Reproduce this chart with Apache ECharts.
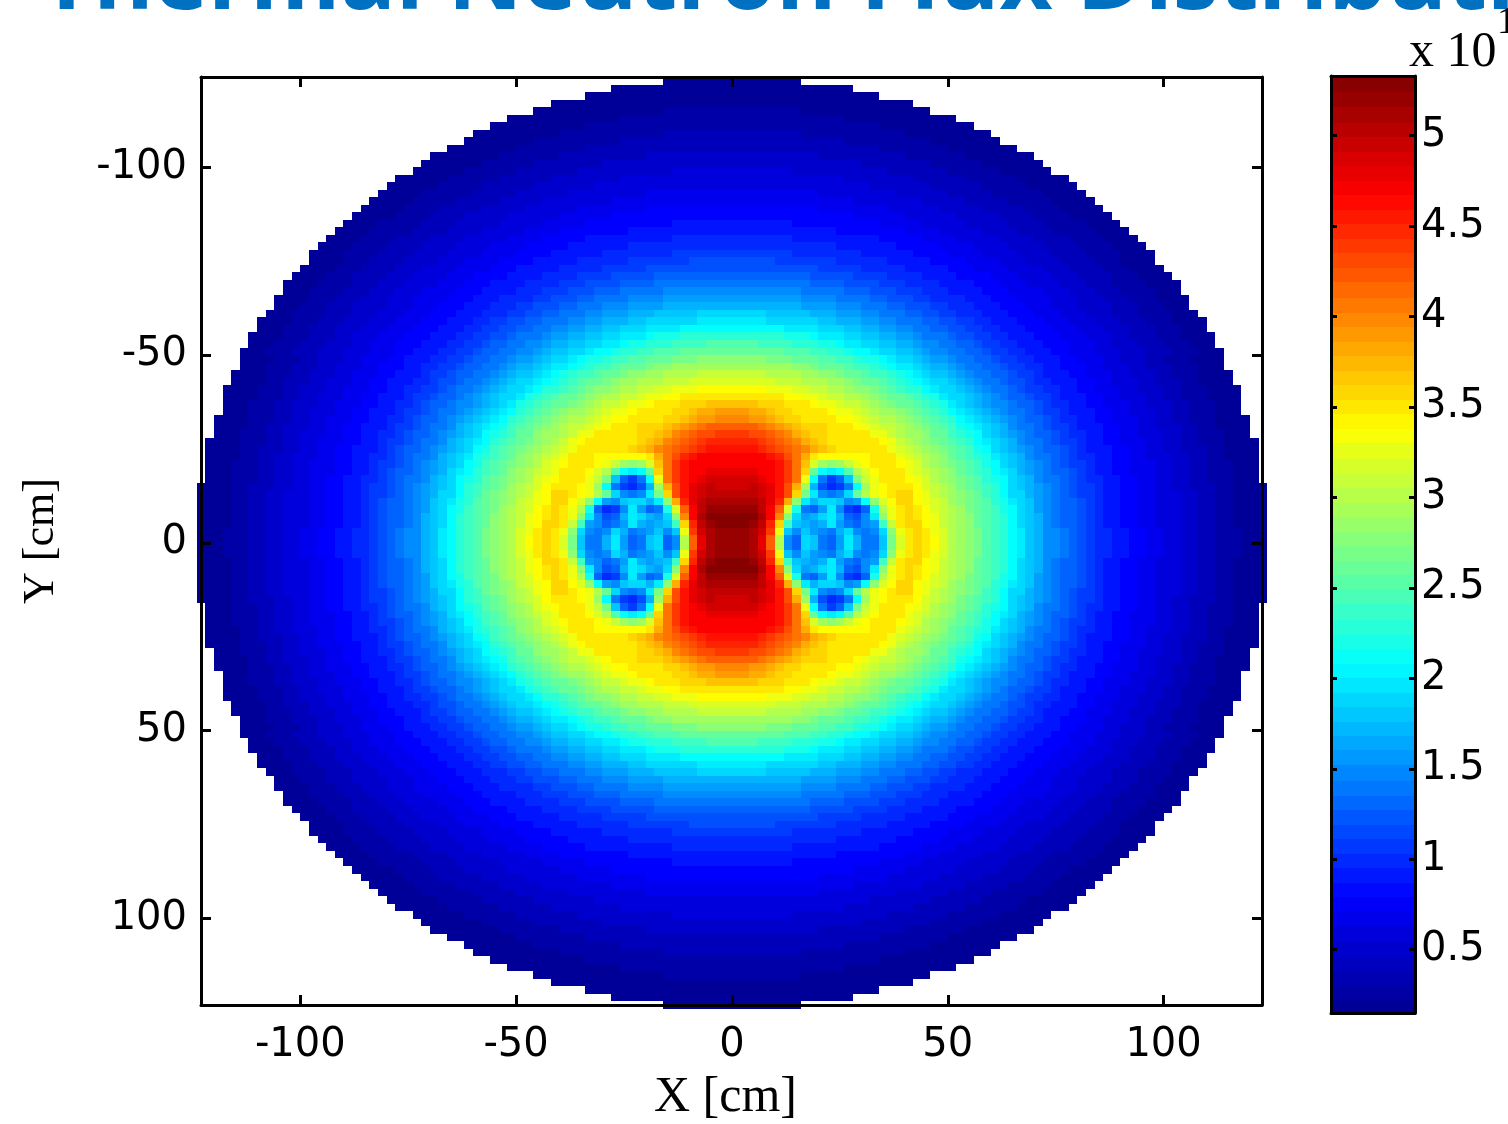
<!DOCTYPE html>
<html><head><meta charset="utf-8">
<style>html,body{margin:0;padding:0;background:#fff;overflow:hidden}#c{width:1508px;height:1124px}</style>
<script src="https://cdn.jsdelivr.net/npm/echarts@6/dist/echarts.min.js"></script>
</head><body><div id="c"></div>
<script>
// Flux in tenths of the colour-bar unit. One list per |y| row (cm); entries run outward along |x| = 1,3,5,... cm.
const r1=[52,52,51,48,42,30,15,13,19,18,14,13,16,20,17,14,14,18,27,32,35,36,35,34,32,30,29,28,27,25,24,23,21,20,18,17,15,15,14,13,12,11,10,10,9,9,8,8,7,7,6,6,5,5,4,4,3,3,3,2,2,2];
const r3=[52,52,51,49,44,33,18,15,18,16,15,14,17,19,15,14,15,19,28,33,35,36,35,33,32,30,29,28,27,25,24,23,21,20,18,17,15,15,14,13,12,11,10,10,9,9,8,8,7,7,6,6,5,5,4,4,3,3,3,2,2,2];
const r5=[53,53,52,50,45,36,24,18,17,16,17,20,16,14,13,15,16,24,31,35,36,36,34,33,31,30,29,28,26,25,24,23,21,19,18,17,15,14,13,13,12,11,10,9,9,8,8,7,7,6,6,6,5,5,4,4,3,3,2,2,2,2];
const r7=[53,53,53,51,47,40,28,19,16,17,19,20,17,13,12,15,20,28,33,35,36,35,34,33,31,30,29,28,26,25,24,23,21,19,18,17,15,14,13,13,12,11,10,9,9,8,8,7,7,6,6,6,5,5,4,4,3,3,2,2,2,2];
const r9=[52,52,52,50,47,42,32,22,14,13,16,20,15,11,10,13,22,30,33,35,36,35,34,32,31,30,29,27,26,25,24,22,21,19,18,16,15,14,13,13,12,11,10,9,9,8,8,7,7,6,6,6,5,5,4,4,3,3,2,2,2,2];
const r11=[51,51,51,50,48,45,38,28,20,17,19,19,18,15,16,21,28,32,34,36,36,34,33,32,31,29,28,27,26,25,23,22,20,19,18,16,15,14,13,13,12,11,10,9,9,8,8,7,7,6,6,6,5,5,4,4,3,3,2,2,2,2];
const r13=[50,50,50,49,48,46,43,36,27,20,15,14,15,19,26,30,33,34,35,36,36,34,33,31,30,29,28,27,26,24,23,21,19,19,17,16,15,14,13,12,11,11,10,9,9,8,8,7,7,6,6,6,5,5,4,4,3,3,2,2,2,2];
const r15=[49,49,50,49,48,46,43,38,29,17,12,10,11,14,21,29,33,34,35,35,35,34,32,31,30,29,27,26,25,24,23,21,19,18,17,16,15,14,13,12,11,11,10,9,9,8,8,7,7,6,6,5,5,4,4,4,3,3,2,2,2,2];
const r17=[49,49,49,48,47,46,44,41,33,21,14,11,13,18,27,31,33,35,35,35,34,33,32,30,29,28,27,26,25,23,22,21,19,18,17,15,14,14,13,12,11,10,10,9,9,8,8,7,7,6,6,5,5,4,4,3,3,3,2,2,2];
const r19=[48,48,48,47,47,46,44,41,36,26,21,20,21,25,30,32,34,35,35,35,33,32,31,30,29,28,26,25,24,23,21,20,19,17,16,15,14,13,13,12,11,10,9,9,8,8,7,7,7,6,6,5,5,4,4,3,3,3,2,2,2];
const r21=[47,47,47,47,47,46,44,41,37,32,29,28,29,31,33,34,35,35,35,34,33,32,30,29,28,27,26,25,24,22,21,19,18,17,16,15,14,13,12,11,11,10,9,9,8,8,7,7,7,6,6,5,5,4,4,3,3,3,2,2,2];
const r23=[47,47,47,47,46,45,43,41,38,35,34,34,34,34,34,34,35,35,35,33,32,31,30,29,28,26,25,24,23,22,20,19,18,17,15,14,14,13,12,11,10,10,9,9,8,8,7,7,6,6,6,5,5,4,4,3,3,2,2,2,2];
const r25=[46,46,46,45,44,43,42,41,40,38,37,36,35,35,35,35,35,35,33,32,31,30,29,28,27,26,25,24,22,21,19,18,17,16,15,14,13,13,12,11,10,9,9,9,8,8,7,7,6,6,5,5,4,4,4,3,3,2,2,2,2];
const r27=[45,45,45,44,43,42,41,40,38,37,36,35,35,35,35,35,35,34,33,31,30,29,28,27,26,25,24,23,21,20,19,18,17,15,14,14,13,12,11,11,10,9,9,8,8,7,7,7,6,6,5,5,4,4,3,3,3,2,2,2,2];
const r29=[44,44,43,43,42,41,40,38,37,36,36,35,35,35,35,35,33,33,31,30,29,29,28,26,26,24,23,22,21,19,18,17,16,15,14,13,13,12,11,10,10,9,9,8,8,7,7,6,6,6,5,5,4,4,3,3,3,2,2,2];
const r31=[42,42,42,41,40,39,38,37,36,36,36,35,35,35,34,33,32,31,31,30,29,28,27,26,25,24,22,21,20,19,18,17,15,14,14,13,12,11,11,10,9,9,9,8,8,7,7,6,6,5,5,5,4,4,3,3,2,2,2,2];
const r33=[40,40,39,39,38,37,36,36,35,35,35,35,34,34,33,32,31,30,30,29,28,27,26,25,24,23,21,20,19,18,17,16,15,14,13,13,12,11,10,10,9,9,8,8,7,7,7,6,6,5,5,4,4,3,3,3,2,2,2,2];
const r35=[39,39,38,38,37,36,36,35,35,35,35,34,33,33,32,31,30,29,29,28,27,26,25,24,23,21,20,19,18,17,16,15,14,14,13,12,11,11,10,9,9,9,8,8,7,7,6,6,6,5,5,4,4,3,3,3,2,2,2];
const r37=[37,37,37,36,36,36,35,35,35,34,33,33,32,31,31,30,29,28,27,26,26,25,24,23,22,20,19,18,17,16,15,15,14,13,13,12,11,10,10,9,9,8,8,7,7,7,6,6,5,5,5,4,4,3,3,3,2,2,2];
const r39=[35,35,35,35,35,35,34,34,33,33,32,31,31,30,30,29,28,27,26,26,25,24,23,22,20,19,19,18,17,16,15,14,13,13,12,11,11,10,9,9,9,8,8,7,7,6,6,6,5,5,4,4,3,3,3,2,2,2,2];
const r41=[34,34,34,34,33,33,33,32,32,31,31,30,30,29,28,28,27,26,25,24,23,23,21,20,19,19,18,17,16,15,14,14,13,12,11,11,10,10,9,9,8,8,7,7,7,6,6,5,5,5,4,4,3,3,3,2,2,2,2];
const r43=[32,32,32,32,32,31,31,31,30,30,30,29,29,28,27,26,26,25,24,23,22,21,20,19,19,18,17,16,15,14,14,13,12,12,11,10,10,9,9,9,8,8,7,7,6,6,6,5,5,4,4,4,3,3,2,2,2,2];
const r45=[31,31,31,31,30,30,30,30,29,29,28,28,27,26,26,25,24,24,23,22,21,20,19,18,18,17,16,15,14,14,13,13,12,11,11,10,9,9,9,8,8,7,7,7,6,6,5,5,5,4,4,3,3,3,2,2,2,2];
const r47=[29,29,29,29,29,29,29,28,28,27,26,26,26,25,24,24,23,22,21,20,20,19,18,17,17,16,15,14,14,13,13,12,11,11,10,10,9,9,8,8,8,7,7,6,6,6,5,5,4,4,4,3,3,3,2,2,2];
const r49=[28,28,28,28,27,27,27,26,26,26,25,25,24,24,23,22,22,21,20,19,19,18,17,16,16,15,14,14,13,13,12,11,11,10,10,9,9,9,8,8,7,7,7,6,6,5,5,5,4,4,3,3,3,2,2,2,2];
const r51=[26,26,26,26,26,26,25,25,25,24,24,23,23,22,21,21,20,19,19,18,18,17,16,15,15,14,14,13,13,12,11,11,10,10,9,9,9,8,8,7,7,7,6,6,6,5,5,5,4,4,4,3,3,3,2,2,2];
const r53=[25,25,25,24,24,24,24,23,23,23,22,22,21,20,20,19,19,18,18,17,17,16,15,15,14,14,13,13,12,11,11,10,10,9,9,9,8,8,8,7,7,7,6,6,5,5,5,4,4,4,3,3,3,2,2,2];
const r55=[23,23,23,23,23,23,22,22,22,21,20,20,20,19,19,18,18,17,17,16,16,15,14,14,14,13,12,12,11,11,10,10,9,9,9,8,8,8,7,7,7,6,6,6,5,5,4,4,4,3,3,3,2,2,2,2];
const r57=[21,21,21,21,21,21,20,20,20,20,19,19,19,18,18,17,17,16,16,15,15,14,14,13,13,12,12,11,11,10,10,9,9,9,8,8,8,7,7,7,6,6,6,5,5,5,4,4,4,3,3,3,2,2,2];
const r59=[20,20,20,20,19,19,19,19,19,19,18,18,17,17,17,16,16,15,15,14,14,14,13,13,12,12,11,11,10,10,9,9,9,8,8,8,7,7,7,6,6,6,5,5,5,4,4,4,3,3,3,2,2,2,2];
const r61=[19,19,19,19,18,18,18,18,18,17,17,17,16,16,16,15,15,14,14,14,13,13,12,12,11,11,10,10,10,9,9,9,8,8,8,7,7,7,6,6,6,5,5,5,4,4,4,3,3,3,3,2,2,2];
const r63=[17,17,17,17,17,17,17,17,16,16,16,16,15,15,15,14,14,14,13,13,12,12,12,11,11,10,10,10,9,9,9,8,8,8,7,7,7,6,6,6,5,5,5,5,4,4,4,3,3,3,2,2,2];
const r65=[16,16,16,16,16,16,16,16,15,15,15,15,14,14,14,14,13,13,12,12,12,11,11,10,10,10,10,9,9,9,8,8,8,7,7,7,7,6,6,6,5,5,5,4,4,4,3,3,3,2,2,2,2];
const r67=[15,15,15,15,15,15,15,15,14,14,14,14,14,13,13,13,12,12,12,11,11,11,10,10,10,9,9,9,9,8,8,8,7,7,7,7,6,6,6,5,5,5,4,4,4,3,3,3,3,2,2,2];
const r69=[14,14,14,14,14,14,14,14,14,13,13,13,13,12,12,12,12,11,11,11,10,10,10,10,9,9,9,9,8,8,8,7,7,7,6,6,6,6,5,5,5,4,4,4,3,3,3,3,2,2,2,2];
const r71=[13,13,13,13,13,13,13,13,13,12,12,12,12,12,11,11,11,11,10,10,10,10,9,9,9,9,8,8,8,8,7,7,7,6,6,6,6,5,5,5,4,4,4,4,3,3,3,2,2,2,2];
const r73=[12,12,12,12,12,12,12,12,12,12,11,11,11,11,11,10,10,10,10,10,9,9,9,9,9,8,8,8,7,7,7,7,6,6,6,6,5,5,5,4,4,4,4,3,3,3,2,2,2,2];
const r75=[12,12,12,12,12,11,11,11,11,11,11,11,10,10,10,10,10,10,9,9,9,9,9,8,8,8,8,7,7,7,7,6,6,6,5,5,5,5,4,4,4,4,3,3,3,2,2,2,2];
const r77=[11,11,11,11,11,11,11,10,10,10,10,10,10,10,10,9,9,9,9,9,9,8,8,8,8,7,7,7,7,6,6,6,6,5,5,5,5,4,4,4,4,3,3,3,3,2,2,2,2];
const r79=[10,10,10,10,10,10,10,10,10,10,10,10,9,9,9,9,9,9,9,8,8,8,8,8,7,7,7,7,6,6,6,6,5,5,5,5,4,4,4,4,3,3,3,3,2,2,2,2];
const r81=[10,10,10,10,10,10,10,9,9,9,9,9,9,9,9,9,9,8,8,8,8,8,7,7,7,7,6,6,6,6,6,5,5,5,5,4,4,4,4,3,3,3,3,2,2,2,2];
const r83=[9,9,9,9,9,9,9,9,9,9,9,9,8,8,8,8,8,8,8,8,7,7,7,7,6,6,6,6,6,5,5,5,5,4,4,4,4,3,3,3,3,3,2,2,2,2];
const r85=[9,9,9,9,9,9,9,8,8,8,8,8,8,8,8,8,8,7,7,7,7,7,6,6,6,6,6,5,5,5,5,5,4,4,4,4,3,3,3,3,3,2,2,2,2];
const r87=[8,8,8,8,8,8,8,8,8,8,8,8,8,8,7,7,7,7,7,7,6,6,6,6,6,6,5,5,5,5,5,4,4,4,4,3,3,3,3,2,2,2,2,2];
const r89=[8,8,8,8,8,8,8,8,8,8,7,7,7,7,7,7,7,7,6,6,6,6,6,6,5,5,5,5,5,4,4,4,4,4,3,3,3,3,2,2,2,2,2];
const r91=[7,7,7,7,7,7,7,7,7,7,7,7,7,7,6,6,6,6,6,6,6,6,5,5,5,5,5,4,4,4,4,4,3,3,3,3,3,2,2,2,2,2];
const r93=[7,7,7,7,7,7,7,7,7,7,6,6,6,6,6,6,6,6,6,5,5,5,5,5,5,4,4,4,4,4,3,3,3,3,3,3,2,2,2,2,2];
const r95=[6,6,6,6,6,6,6,6,6,6,6,6,6,6,6,6,5,5,5,5,5,5,5,4,4,4,4,4,4,3,3,3,3,3,2,2,2,2,2,2];
const r97=[6,6,6,6,6,6,6,6,6,6,6,6,6,5,5,5,5,5,5,5,5,4,4,4,4,4,4,3,3,3,3,3,3,2,2,2,2,2,2];
const r99=[6,6,6,6,6,6,6,5,5,5,5,5,5,5,5,5,5,5,4,4,4,4,4,4,4,3,3,3,3,3,3,2,2,2,2,2,2];
const r101=[5,5,5,5,5,5,5,5,5,5,5,5,5,5,5,4,4,4,4,4,4,4,4,3,3,3,3,3,3,2,2,2,2,2,2,2];
const r103=[5,5,5,5,5,5,5,5,5,5,4,4,4,4,4,4,4,4,4,4,3,3,3,3,3,3,3,2,2,2,2,2,2,2,2];
const r105=[4,4,4,4,4,4,4,4,4,4,4,4,4,4,4,4,4,3,3,3,3,3,3,3,3,2,2,2,2,2,2,2,2];
const r107=[4,4,4,4,4,4,4,4,4,4,4,4,4,3,3,3,3,3,3,3,3,3,3,2,2,2,2,2,2,2,2];
const r109=[4,4,4,4,4,4,4,4,3,3,3,3,3,3,3,3,3,3,3,3,2,2,2,2,2,2,2,2,2,2];
const r111=[3,3,3,3,3,3,3,3,3,3,3,3,3,3,3,3,3,2,2,2,2,2,2,2,2,2,2,2];
const r113=[3,3,3,3,3,3,3,3,3,3,3,3,3,2,2,2,2,2,2,2,2,2,2,2,2,2];
const r115=[3,3,3,3,3,3,3,3,2,2,2,2,2,2,2,2,2,2,2,2,2,2,2];
const r117=[2,2,2,2,2,2,2,2,2,2,2,2,2,2,2,2,2,2,2,2,2];
const r119=[2,2,2,2,2,2,2,2,2,2,2,2,2,2,2,2,2];
const r121=[2,2,2,2,2,2,2,2,2,2,2,2,2,2];
const r123=[2,2,2,2,2,2,2,2];
const fluxRows=[r1,r3,r5,r7,r9,r11,r13,r15,r17,r19,r21,r23,r25,r27,r29,r31,r33,r35,r37,r39,r41,r43,r45,r47,r49,r51,r53,r55,r57,r59,r61,r63,r65,r67,r69,r71,r73,r75,r77,r79,r81,r83,r85,r87,r89,r91,r93,r95,r97,r99,r101,r103,r105,r107,r109,r111,r113,r115,r117,r119,r121,r123];
const colorbarLevels=[0.19,0.27,0.35,0.43,0.51,0.59,0.68,0.76,0.84,0.92,1.00,1.08,1.16,1.24,1.32,1.40,1.48,1.57,1.65,1.73,1.81,1.89,1.97,2.05,2.13,2.21,2.29,2.37,2.46,2.54,2.62,2.70,2.78,2.86,2.94,3.02,3.10,3.18,3.26,3.35,3.43,3.51,3.59,3.67,3.75,3.83,3.91,3.99,4.07,4.15,4.24,4.32,4.40,4.48,4.56,4.64,4.72,4.80,4.88,4.96,5.04,5.12,5.21,5.29];
const xTicks=[-100,-50,0,50,100];
const yTicks=[-100,-50,0,50,100];
const cbTicks=[0.5,1,1.5,2,2.5,3,3.5,4,4.5,5];

const cellData=[];
fluxRows.forEach((row,ri)=>{const ay=2*ri+1;row.forEach((v,ci)=>{const ax=2*ci+1;
  [[ax,ay],[-ax,ay],[ax,-ay],[-ax,-ay]].forEach(p=>cellData.push([p[0],p[1],v/10]));});});
const barBand=(5.33-0.15)/64;
const barData=colorbarLevels.map(v=>[0.5,v,v]);

const tickFont={fontFamily:'"DejaVu Sans"',fontSize:40,color:'#000'};
const line={show:true,onZero:false,lineStyle:{color:'#000',width:3}};
const tick=(vals,len)=>({show:true,inside:true,length:len,customValues:vals,lineStyle:{color:'#000',width:3}});
const chart=echarts.init(document.getElementById('c'),null,{renderer:'canvas'});
chart.setOption({
  animation:false,backgroundColor:'#fff',
  grid:[{left:201,top:77,width:1061,height:928,outerBoundsMode:'none',containLabel:false},{left:1331,top:76,width:84,height:937,outerBoundsMode:'none',containLabel:false}],
  xAxis:[
    {type:'value',gridIndex:0,min:-123,max:122.8,position:'bottom',z:10,axisLine:line,axisTick:tick(xTicks,10),splitLine:{show:false},
     axisLabel:Object.assign({show:true,margin:21,customValues:xTicks},tickFont),
     name:'X [cm]',nameLocation:'middle',nameGap:68,nameTextStyle:{fontFamily:'"Liberation Serif"',fontSize:50,color:'#000',padding:[0,12,0,0]}},
    {type:'value',gridIndex:0,min:-123,max:122.8,position:'top',z:10,axisLine:line,axisTick:tick(xTicks,10),axisLabel:{show:false},splitLine:{show:false}},
    {type:'value',gridIndex:1,min:0,max:1,position:'bottom',z:10,axisLine:line,axisTick:{show:false},axisLabel:{show:false},splitLine:{show:false}},
    {type:'value',gridIndex:1,min:0,max:1,position:'top',z:10,axisLine:line,axisTick:{show:false},axisLabel:{show:false},splitLine:{show:false}}
  ],
  yAxis:[
    {type:'value',gridIndex:0,min:-124,max:123,inverse:true,position:'left',z:10,axisLine:line,axisTick:tick(yTicks,10),splitLine:{show:false},
     axisLabel:Object.assign({show:true,margin:14,padding:[8,0,0,0],customValues:yTicks},tickFont),
     name:'Y [cm]',nameLocation:'middle',nameGap:138,nameTextStyle:{fontFamily:'"Liberation Serif"',fontSize:44,color:'#000'}},
    {type:'value',gridIndex:0,min:-124,max:123,inverse:true,position:'right',z:10,axisLine:line,axisTick:tick(yTicks,10),axisLabel:{show:false},splitLine:{show:false}},
    {type:'value',gridIndex:1,min:0.15,max:5.33,position:'right',z:10,axisLine:line,axisTick:tick(cbTicks,6),splitLine:{show:false},
     axisLabel:Object.assign({show:true,margin:6,padding:[8,0,0,0],customValues:cbTicks},tickFont)},
    {type:'value',gridIndex:1,min:0.15,max:5.33,position:'left',z:10,axisLine:line,axisTick:tick(cbTicks,6),axisLabel:{show:false},splitLine:{show:false}}
  ],
  visualMap:{type:'continuous',show:false,dimension:2,seriesIndex:[0,1],min:0.15,max:5.33,
    inRange:{color:['#00008f','#0000ff','#0080ff','#00ffff','#80ff80','#ffff00','#ff8000','#ff0000','#800000']}},
  series:[
    {type:'custom',xAxisIndex:0,yAxisIndex:0,data:cellData,progressive:0,silent:true,z:2,encode:{x:0,y:1},
     renderItem(p,api){const x=api.value(0),y=api.value(1);const a=api.coord([x-1,y-1]),b=api.coord([x+1,y+1]);
       const x0=Math.round(a[0]),y0=Math.round(a[1]);
       return {type:'rect',shape:{x:x0,y:y0,width:Math.round(b[0])-x0,height:Math.round(b[1])-y0},style:{fill:api.visual('color')}};}},
    {type:'custom',xAxisIndex:2,yAxisIndex:2,data:barData,progressive:0,silent:true,z:2,encode:{x:0,y:1},
     renderItem(p,api){const v=api.value(1);const a=api.coord([0,v+barBand/2]),b=api.coord([1,v-barBand/2]);
       const x0=Math.round(a[0]),y0=Math.floor(a[1]);
       return {type:'rect',shape:{x:x0,y:y0,width:Math.round(b[0])-x0,height:Math.ceil(b[1])-y0+1},style:{fill:api.visual('color')}};}}
  ],
  graphic:[
    {type:'text',x:40,y:29,z:20,silent:true,style:{text:'Thermal Neutron Flux Distribution',fill:'#0070c0',font:'700 92px "Open Sans"',verticalAlign:'bottom',shadowBlur:3,shadowColor:'rgba(0,0,0,0.45)',shadowOffsetX:3,shadowOffsetY:3}},
    {type:'text',x:1409,y:78,z:20,silent:true,style:{text:'x 10',fill:'#000',font:'50px "Liberation Serif"',verticalAlign:'bottom'}},
    {type:'text',x:1497,y:42,z:20,silent:true,style:{text:'13',fill:'#000',font:'38px "Liberation Serif"',verticalAlign:'bottom'}}
  ]
});
</script></body></html>
